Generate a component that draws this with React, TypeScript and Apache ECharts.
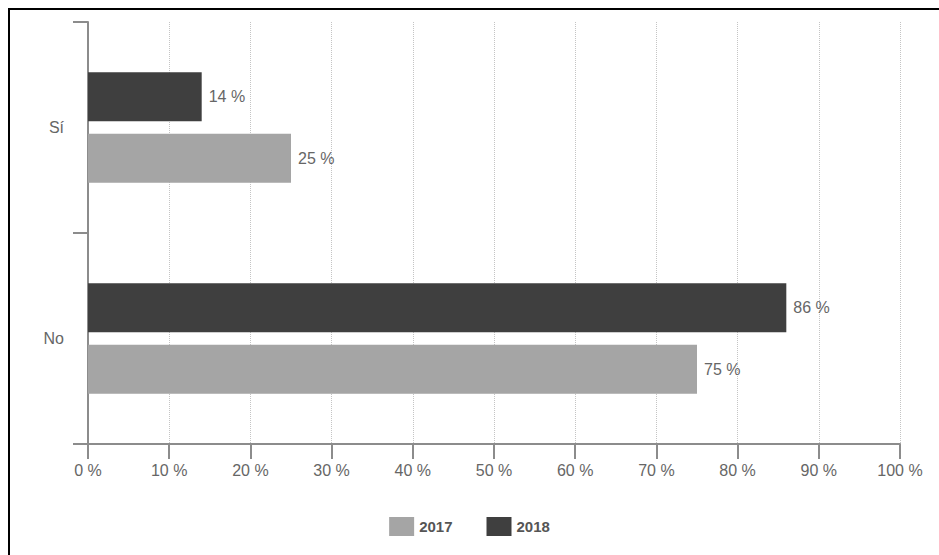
import React, { useEffect, useRef } from "react";
import * as echarts from "echarts";

const categories = ["Sí", "No"];
const seriesNames = ["2017", "2018"];
const values2017 = [25, 75];
const values2018 = [14, 86];
const xTicks = [0, 10, 20, 30, 40, 50, 60, 70, 80, 90, 100];

const COLORS = ["#a5a5a5", "#3f3f3f"];
const FONT = "'Liberation Sans', Arial, sans-serif";

export default function App() {
  const ref = useRef<HTMLDivElement>(null);
  useEffect(() => {
    if (!ref.current) return;
    const chart = echarts.init(ref.current, null, { renderer: "svg" });
    const label = {
      show: true,
      position: "right",
      distance: 7,
      color: "#666",
      fontSize: 16,
      fontFamily: FONT,
      formatter: (p: any) => `${p.value} %`,
    };
    chart.setOption({
      animation: false,
      backgroundColor: "#ffffff",
      textStyle: { fontFamily: FONT },
      legend: {
        bottom: 14,
        left: "center",
        itemWidth: 25,
        itemHeight: 19,
        itemGap: 34,
        icon: "rect",
        data: seriesNames,
        textStyle: { fontSize: 15, fontWeight: "bold", color: "#555", fontFamily: FONT },
      },
      grid: { left: 88, top: 22, right: 39, bottom: 111, containLabel: false },
      xAxis: {
        type: "value",
        min: xTicks[0],
        max: xTicks[xTicks.length - 1],
        interval: 10,
        axisLine: { show: true, lineStyle: { color: "#8c8c8c", width: 2 } },
        axisTick: { show: true, length: 15, lineStyle: { color: "#8c8c8c", width: 2 } },
        axisLabel: {
          margin: 18,
          color: "#666",
          fontSize: 16,
          fontFamily: FONT,
          formatter: (v: number) => `${v} %`,
        },
        splitLine: { show: true, lineStyle: { color: "#c4c4c4", type: "dotted", width: 1 } },
      },
      yAxis: {
        type: "category",
        data: categories,
        inverse: true,
        axisLine: { show: true, lineStyle: { color: "#8c8c8c", width: 2 } },
        axisTick: { show: true, length: 15, lineStyle: { color: "#8c8c8c", width: 2 } },
        axisLabel: { margin: 24, color: "#666", fontSize: 16, fontFamily: FONT },
        splitLine: { show: false },
      },
      series: [
        {
          name: seriesNames[1],
          type: "bar",
          data: values2018,
          barWidth: 49,
          barGap: "26%",
          itemStyle: { color: COLORS[1] },
          label,
        },
        {
          name: seriesNames[0],
          type: "bar",
          data: values2017,
          barWidth: 49,
          barGap: "26%",
          itemStyle: { color: COLORS[0] },
          label,
        },
      ],
    });
    return () => chart.dispose();
  }, []);
  return (
    <div style={{ position: "absolute", left: 0, top: 0, width: 939, height: 555, background: "#fff" }}>
      <div ref={ref} style={{ position: "absolute", left: 0, top: 0, width: 939, height: 555 }} />
      <div
        style={{
          position: "absolute",
          left: 8,
          top: 8,
          width: 931,
          height: 547,
          borderTop: "2px solid #000",
          borderLeft: "2px solid #000",
          boxSizing: "border-box",
          pointerEvents: "none",
        }}
      />
    </div>
  );
}
